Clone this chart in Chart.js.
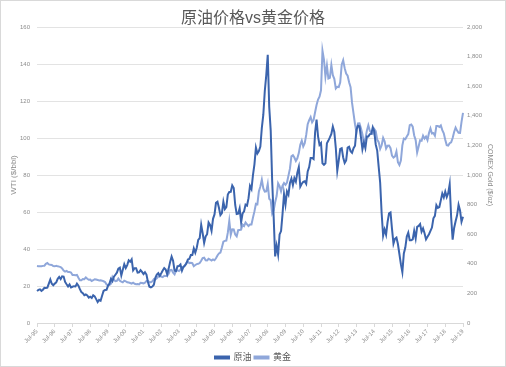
<!DOCTYPE html>
<html>
<head>
<meta charset="utf-8">
<script src="https://cdn.jsdelivr.net/npm/chart.js@4.4.1/dist/chart.umd.min.js"></script>
<style>
html, body { margin: 0; padding: 0; background: #fff; }
#wrap { width: 506px; height: 367px; position: relative; }
</style>
</head>
<body>
<div id="wrap"><canvas id="c"></canvas></div>
<script>
// 月度数据 Jul-95 ... Jul-19
var monthNames = ['Jan', 'Feb', 'Mar', 'Apr', 'May', 'Jun', 'Jul', 'Aug', 'Sep', 'Oct', 'Nov', 'Dec'];

// WTI ($/bbl)
var wti = [
    17.3, 17.9, 18.2, 17.4, 18.0, 19.0,                                  // 1995 Jul-Dec
    18.9, 19.1, 21.3, 23.5, 21.2, 20.4, 21.3, 21.9, 23.9, 24.9, 23.7, 25.2,  // 1996
    25.1, 22.2, 20.9, 19.7, 20.8, 19.2, 19.6, 19.9, 19.8, 21.3, 20.2, 18.3,  // 1997
    16.7, 16.1, 15.0, 15.4, 14.9, 13.7, 14.2, 13.5, 15.0, 14.4, 12.9, 11.3,  // 1998
    12.5, 12.0, 14.7, 17.3, 17.8, 17.9, 20.1, 21.3, 23.9, 22.6, 25.0, 26.1,  // 1999
    27.2, 29.4, 29.9, 25.7, 28.8, 31.8, 29.7, 31.3, 33.9, 33.1, 34.4, 28.5,  // 2000
    29.6, 29.6, 27.2, 27.4, 28.6, 27.6, 26.4, 27.4, 26.2, 22.2, 19.6, 19.3,  // 2001
    19.7, 20.7, 24.4, 26.2, 27.0, 25.5, 26.9, 28.4, 29.7, 28.9, 26.3, 29.4,  // 2002
    33.0, 35.9, 33.6, 28.3, 28.1, 30.7, 30.8, 31.6, 28.3, 30.3, 31.1, 32.1,  // 2003
    34.3, 34.7, 36.7, 36.7, 40.3, 38.0, 40.7, 44.9, 45.9, 53.1, 48.5, 43.3,  // 2004
    46.8, 48.0, 54.3, 53.0, 49.8, 56.3, 58.7, 65.0, 65.6, 62.3, 58.3, 59.4,  // 2005
    65.5, 61.6, 62.7, 69.4, 70.8, 70.9, 74.4, 73.0, 63.8, 58.9, 59.1, 62.0,  // 2006
    54.5, 59.3, 60.4, 64.0, 63.5, 67.5, 74.1, 72.4, 79.9, 85.8, 94.8, 91.7,  // 2007
    93.0, 95.4, 105.5, 112.6, 125.4, 134.0, 145.0, 116.7, 104.1, 76.6, 57.3, 36.0,  // 2008
    41.7, 37.0, 47.9, 49.7, 59.0, 69.6, 64.1, 71.1, 69.4, 75.7, 78.0, 74.5,  // 2009
    78.3, 76.4, 81.2, 84.3, 73.7, 75.3, 76.3, 76.6, 75.2, 81.9, 84.3, 89.2,  // 2010
    89.2, 88.6, 102.9, 110.0, 100.9, 96.3, 97.3, 86.3, 85.5, 86.3, 97.2, 98.6,  // 2011
    100.3, 102.2, 106.2, 103.3, 94.7, 82.3, 87.9, 94.1, 94.5, 89.5, 86.5, 87.9,  // 2012
    94.8, 95.3, 92.9, 92.0, 94.5, 95.8, 104.6, 106.6, 106.3, 100.5, 93.9, 97.6,  // 2013
    94.6, 100.8, 100.8, 102.1, 102.2, 105.8, 103.6, 96.5, 93.2, 84.4, 75.8, 59.3,  // 2014
    47.2, 50.6, 47.8, 54.5, 59.3, 59.8, 50.9, 42.9, 45.5, 46.2, 42.7, 37.3,  // 2015
    31.8, 27.5, 37.6, 40.8, 46.7, 48.8, 44.7, 44.7, 45.2, 49.8, 45.7, 52.0,  // 2016
    52.5, 53.5, 49.3, 51.1, 48.5, 45.2, 46.6, 48.0, 49.8, 51.6, 56.6, 57.9,  // 2017
    63.7, 62.2, 62.7, 66.3, 70.0, 67.9, 71.0, 68.1, 70.2, 75.0, 57.0, 45.0,  // 2018
    51.4, 55.0, 58.2, 63.9, 60.8, 54.7, 57.4                             // 2019 Jan-Jul
];

// COMEX Gold ($/oz)
var gold = [
    385, 383, 383, 383, 386, 387,                                        // 1995 Jul-Dec
    400, 405, 396, 393, 392, 385, 383, 387, 383, 381, 378, 369,          // 1996
    355, 347, 352, 344, 344, 341, 324, 324, 323, 325, 306, 289,          // 1997
    289, 297, 296, 308, 299, 292, 293, 284, 289, 296, 294, 291,          // 1998
    287, 288, 286, 282, 277, 261, 256, 257, 265, 311, 293, 283,          // 1999
    285, 300, 286, 280, 275, 286, 282, 275, 273, 270, 266, 272,          // 2000
    265, 262, 263, 261, 272, 270, 268, 273, 283, 283, 276, 276,          // 2001
    282, 296, 294, 302, 314, 322, 314, 310, 319, 317, 319, 333,          // 2002
    357, 359, 340, 329, 355, 356, 351, 360, 379, 379, 389, 407,          // 2003
    414, 405, 407, 404, 384, 392, 398, 400, 405, 420, 439, 442,          // 2004
    424, 423, 434, 429, 422, 430, 424, 437, 456, 470, 476, 510,          // 2005
    549, 555, 557, 610, 690, 596, 633, 632, 598, 586, 627, 629,          // 2006
    631, 665, 655, 679, 667, 655, 665, 665, 712, 754, 806, 803,          // 2007
    889, 922, 968, 909, 888, 889, 939, 839, 829, 740, 760, 816,          // 2008
    858, 943, 924, 890, 928, 946, 934, 949, 996, 1043, 1127, 1134,       // 2009
    1118, 1095, 1113, 1148, 1205, 1232, 1193, 1215, 1271, 1343, 1370, 1391,  // 2010
    1356, 1372, 1424, 1473, 1510, 1529, 1572, 1840, 1780, 1666, 1739, 1652,  // 2011
    1656, 1743, 1674, 1650, 1585, 1596, 1594, 1626, 1745, 1775, 1722, 1685,  // 2012
    1671, 1627, 1593, 1487, 1414, 1343, 1287, 1348, 1349, 1316, 1275, 1221,  // 2013
    1244, 1300, 1336, 1299, 1287, 1279, 1311, 1296, 1239, 1222, 1176, 1201,  // 2014
    1251, 1227, 1179, 1198, 1199, 1181, 1131, 1117, 1125, 1159, 1086, 1068,  // 2015
    1097, 1200, 1246, 1242, 1260, 1276, 1337, 1341, 1326, 1267, 1236, 1152,  // 2016
    1192, 1234, 1231, 1266, 1246, 1260, 1236, 1283, 1315, 1280, 1283, 1265,  // 2017
    1331, 1331, 1325, 1335, 1303, 1282, 1238, 1202, 1199, 1215, 1221, 1250,  // 2018
    1291, 1320, 1300, 1285, 1284, 1359, 1420                             // 2019 Jan-Jul
];

var labels = [];
for (var i = 0; i < wti.length; i++) {
    var m = (6 + i) % 12;
    var y = 1995 + Math.floor((6 + i) / 12);
    labels.push(monthNames[m] + '-' + String(y).slice(2));
}

var darkBlue = '#3b64ad';
var lightBlue = '#8fa7da';
var tickColor = '#8c8c8c';
var gridColor = '#e3e3e3';

Chart.defaults.font.family = "'Liberation Sans', 'Noto Sans CJK SC', sans-serif";

var frame = {
    id: 'frame',
    beforeDraw: function(chart) {
        var ctx = chart.ctx;
        ctx.save();
        ctx.fillStyle = '#fff';
        ctx.fillRect(0, 0, chart.width, chart.height);
        ctx.strokeStyle = '#d9d9d9';
        ctx.lineWidth = 1;
        ctx.strokeRect(0.5, 0.5, chart.width - 1, chart.height - 1);
        ctx.restore();
    }
};

new Chart(document.getElementById('c'), {
    type: 'line',
    data: {
        labels: labels,
        datasets: [{
            label: '原油',
            data: wti,
            yAxisID: 'y',
            borderColor: darkBlue,
            backgroundColor: darkBlue,
            borderWidth: 2,
            pointRadius: 0,
            tension: 0
        }, {
            label: '黄金',
            data: gold,
            yAxisID: 'y1',
            borderColor: lightBlue,
            backgroundColor: lightBlue,
            borderWidth: 2,
            pointRadius: 0,
            tension: 0
        }]
    },
    options: {
        responsive: true,
        maintainAspectRatio: false,
        animation: false,
        layout: { padding: { left: 0, right: 0, top: 0, bottom: -5 } },
        plugins: {
            title: {
                display: true,
                text: '原油价格vs黄金价格',
                color: '#595959',
                font: { size: 16, weight: 'normal', lineHeight: 1 },
                padding: { top: 11, bottom: 0 }
            },
            legend: {
                position: 'bottom',
                labels: {
                    color: '#595959',
                    font: { size: 9 },
                    boxWidth: 14,
                    boxHeight: 2,
                    padding: 3
                }
            },
            tooltip: { enabled: false }
        },
        scales: {
            x: {
                offset: false,
                grid: {
                    drawOnChartArea: false,
                    drawTicks: true,
                    tickLength: 4,
                    color: function(c) { return c.index % 12 === 0 ? '#d9d9d9' : 'rgba(0,0,0,0)'; }
                },
                border: { display: true, color: '#d9d9d9' },
                ticks: {
                    autoSkip: false,
                    maxRotation: 45,
                    minRotation: 45,
                    padding: 1,
                    color: tickColor,
                    font: { size: 6 },
                    callback: function(v, i) {
                        return i % 12 === 0 ? labels[i] : '';
                    }
                },
                afterFit: function(s) { s.height = 27; }
            },
            y: {
                position: 'left',
                min: 0,
                max: 160,
                ticks: { stepSize: 20, color: tickColor, font: { size: 6 }, padding: 7 },
                grid: { color: gridColor, drawTicks: false },
                border: { display: false },
                title: {
                    display: true,
                    text: 'WTI ($/bbl)',
                    color: tickColor,
                    font: { size: 8 },
                    padding: { top: 9, bottom: 0 }
                },
                afterFit: function(s) { s.width = 37; }
            },
            y1: {
                position: 'right',
                min: 0,
                max: 2000,
                ticks: { stepSize: 200, color: tickColor, font: { size: 6 }, padding: 4 },
                grid: { display: false, drawTicks: false },
                border: { display: false },
                title: {
                    display: true,
                    text: 'COMEX Gold ($/oz)',
                    color: tickColor,
                    font: { size: 7 },
                    padding: { top: 12, bottom: 0 }
                },
                afterFit: function(s) { s.width = 43; }
            }
        }
    },
    plugins: [frame]
});
</script>
</body>
</html>
